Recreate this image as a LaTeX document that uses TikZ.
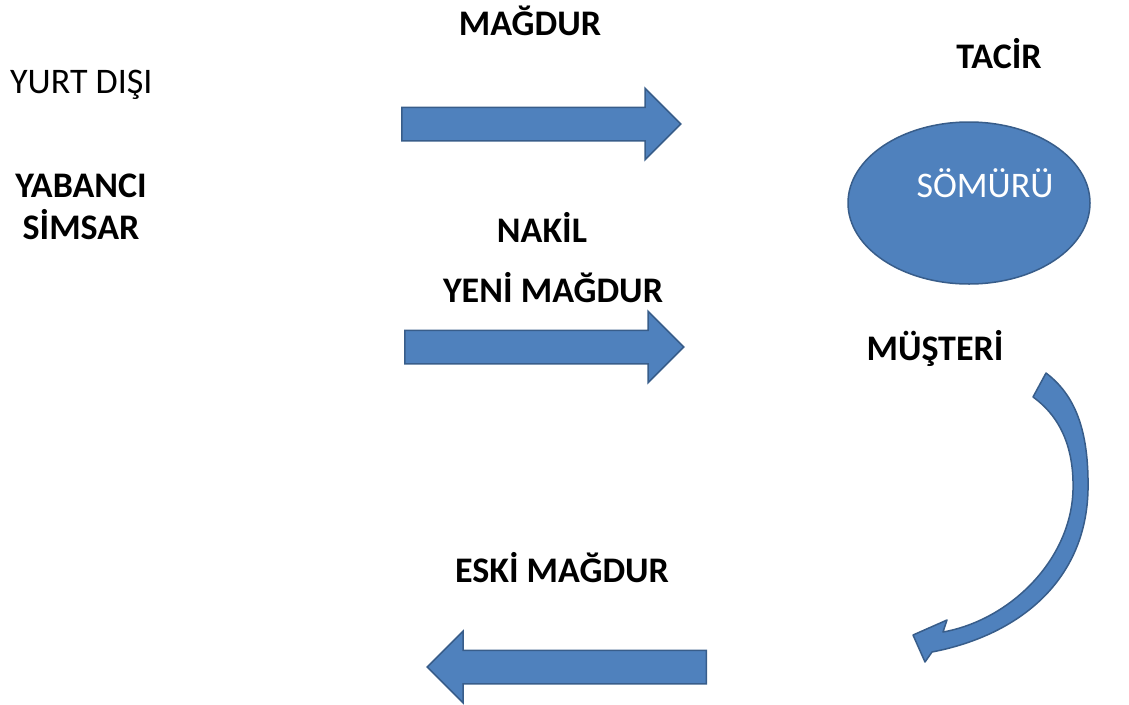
\documentclass[tikz,border=0pt]{standalone}
\usepackage{fontspec}
\setmainfont{Carlito}
\usetikzlibrary{shapes.arrows,shapes.geometric}
\definecolor{boxblue}{HTML}{4F81BD}
\definecolor{edgeblue}{HTML}{385D8A}
\tikzset{
  lbl/.style        = {font=\fontsize{36}{42}\selectfont\bfseries, inner sep=0pt, anchor=base},
  lblplain/.style   = {font=\fontsize{36}{42}\selectfont, inner sep=0pt, anchor=base},
  blockarrow/.style = {single arrow, draw=edgeblue, fill=boxblue, line width=1.5pt,
                       inner xsep=0pt, inner ysep=16pt, minimum height=279pt,
                       single arrow head extend=19pt, anchor=tail},
  blob/.style       = {ellipse, draw=edgeblue, fill=boxblue, line width=1.5pt, inner sep=0pt},
  bentarrow/.style  = {draw=edgeblue, fill=boxblue, line width=1.5pt, line join=round},
}
\begin{document}
\begin{tikzpicture}[x=1pt, y=-1pt]
  \useasboundingbox (0,0) rectangle (1129,704);

  % left side
  \node[lblplain, anchor=base west] (yurt) at (10,93) {YURT DIŞI};
  \node[lbl, align=center, anchor=center] (simsar) at (81,207) {YABANCI\\SİMSAR};

  % middle labels
  \node[lbl] (magdur) at (530,35) {MAĞDUR};
  \node[lbl] (nakil) at (542,242) {NAKİL};
  \node[lbl] (yeni) at (553,302) {YENİ MAĞDUR};
  \node[lbl] (eski) at (562,582) {ESKİ MAĞDUR};

  % block arrows
  \node[blockarrow] (arrtop) at (401,124) {};
  \node[blockarrow] (arrmid) at (404,347) {};
  \node[blockarrow, shape border rotate=180] (arrbot) at (707,667) {};

  % right side
  \node[lbl] (tacir) at (999,68) {TACİR};
  \node[blob, minimum width=242pt, minimum height=162pt] (somuru) at (969,203) {};
  \node[lblplain, text=white] (somurutxt) at (985,197) {SÖMÜRÜ};
  \node[lbl] (musteri) at (935,360) {MÜŞTERİ};

  % curved arrow back down
  \draw[bentarrow] (1033,397) .. controls (1062,418) and (1074,450) .. (1073,490)
    .. controls (1071,560) and (1010,620) .. (943,632)
    -- (947,620) -- (913,635) -- (925,662) -- (932,652)
    .. controls (1020,635) and (1086,580) .. (1088,490)
    .. controls (1089,430) and (1075,395) .. (1046,373) -- cycle;
\end{tikzpicture}
\end{document}
